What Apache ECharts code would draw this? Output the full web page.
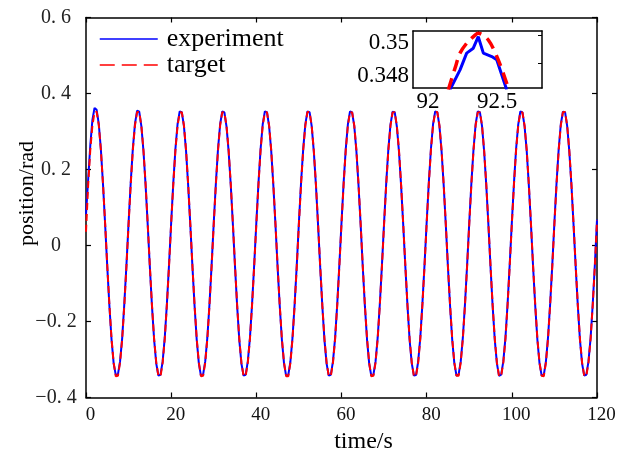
<!DOCTYPE html>
<html><head><meta charset="utf-8">
<script src="https://cdn.jsdelivr.net/npm/echarts@6/dist/echarts.min.js"></script>
<style>html,body{margin:0;padding:0;background:#fff}#c{width:635px;height:455px}</style>
</head><body><div id="c"></div>
<script>
// sampling interval of the recorded signals (s)
const sampleStep = 0.5;

// target position (rad), one row per 10 s period
const target = [
 0.036,0.158,0.250,0.315,0.351,0.352,0.317,0.251,0.161,0.057,-0.054,-0.157,-0.246,-0.309,-0.344,-0.343,-0.308,-0.246,-0.157,-0.055,
 0.056,0.160,0.251,0.316,0.351,0.351,0.316,0.250,0.161,0.056,-0.055,-0.158,-0.246,-0.308,-0.343,-0.344,-0.309,-0.245,-0.156,-0.054,
 0.057,0.161,0.251,0.315,0.350,0.351,0.316,0.251,0.160,0.056,-0.054,-0.157,-0.245,-0.308,-0.344,-0.343,-0.308,-0.245,-0.157,-0.055,
 0.056,0.161,0.250,0.316,0.351,0.350,0.315,0.250,0.161,0.057,-0.054,-0.158,-0.246,-0.309,-0.343,-0.343,-0.308,-0.246,-0.157,-0.054,
 0.056,0.160,0.251,0.316,0.350,0.351,0.316,0.251,0.160,0.056,-0.055,-0.157,-0.245,-0.308,-0.344,-0.344,-0.309,-0.245,-0.156,-0.055,
 0.057,0.161,0.250,0.315,0.351,0.351,0.316,0.250,0.161,0.056,-0.054,-0.157,-0.246,-0.308,-0.343,-0.343,-0.308,-0.246,-0.157,-0.054,
 0.056,0.161,0.251,0.316,0.351,0.350,0.316,0.251,0.161,0.057,-0.055,-0.158,-0.245,-0.309,-0.344,-0.343,-0.308,-0.245,-0.157,-0.055,
 0.056,0.160,0.250,0.315,0.350,0.351,0.315,0.250,0.160,0.056,-0.054,-0.157,-0.246,-0.308,-0.343,-0.344,-0.309,-0.246,-0.156,-0.054,
 0.057,0.161,0.251,0.316,0.351,0.351,0.316,0.251,0.161,0.056,-0.055,-0.157,-0.245,-0.308,-0.343,-0.343,-0.308,-0.245,-0.157,-0.055,
 0.056,0.161,0.250,0.316,0.350,0.351,0.316,0.250,0.161,0.057,-0.054,-0.158,-0.246,-0.309,-0.344,-0.343,-0.308,-0.246,-0.157,-0.054,
 0.056,0.160,0.251,0.315,0.351,0.350,0.315,0.251,0.160,0.056,-0.055,-0.157,-0.245,-0.308,-0.343,-0.344,-0.309,-0.245,-0.156,-0.055,
 0.057,0.161,0.250,0.316,0.351,0.351,0.316,0.250,0.161,0.056,-0.054,-0.157,-0.246,-0.308,-0.343,-0.343,-0.308,-0.246,-0.157,-0.054,
 0.066
];

// measured (experiment) position (rad)
const experiment = [
 0.082,0.172,0.262,0.330,0.362,0.357,0.320,0.252,0.160,0.054,-0.057,-0.160,-0.248,-0.311,-0.341,-0.339,-0.305,-0.243,-0.153,-0.051,
 0.060,0.165,0.255,0.320,0.355,0.352,0.314,0.248,0.158,0.053,-0.058,-0.161,-0.248,-0.311,-0.342,-0.340,-0.305,-0.242,-0.153,-0.050,
 0.060,0.165,0.254,0.319,0.353,0.351,0.314,0.248,0.157,0.053,-0.057,-0.160,-0.248,-0.310,-0.343,-0.340,-0.305,-0.242,-0.154,-0.051,
 0.060,0.164,0.254,0.319,0.353,0.350,0.313,0.247,0.158,0.054,-0.057,-0.161,-0.249,-0.311,-0.342,-0.340,-0.305,-0.243,-0.154,-0.050,
 0.060,0.164,0.254,0.319,0.353,0.351,0.314,0.248,0.157,0.053,-0.058,-0.160,-0.248,-0.310,-0.343,-0.341,-0.306,-0.242,-0.153,-0.051,
 0.061,0.165,0.253,0.318,0.353,0.351,0.314,0.247,0.158,0.053,-0.057,-0.160,-0.249,-0.311,-0.342,-0.340,-0.305,-0.243,-0.154,-0.050,
 0.060,0.165,0.254,0.319,0.353,0.350,0.314,0.248,0.158,0.054,-0.058,-0.161,-0.248,-0.311,-0.343,-0.340,-0.305,-0.242,-0.154,-0.051,
 0.060,0.164,0.253,0.318,0.352,0.351,0.313,0.247,0.157,0.053,-0.057,-0.160,-0.249,-0.310,-0.342,-0.341,-0.306,-0.243,-0.153,-0.050,
 0.061,0.165,0.254,0.319,0.353,0.351,0.314,0.248,0.158,0.053,-0.058,-0.160,-0.248,-0.310,-0.342,-0.340,-0.305,-0.242,-0.154,-0.051,
 0.060,0.164,0.253,0.319,0.353,0.351,0.314,0.247,0.158,0.054,-0.057,-0.161,-0.249,-0.311,-0.343,-0.340,-0.305,-0.243,-0.154,-0.050,
 0.060,0.164,0.254,0.318,0.353,0.350,0.313,0.248,0.157,0.053,-0.058,-0.160,-0.248,-0.310,-0.342,-0.341,-0.306,-0.242,-0.153,-0.051,
 0.061,0.165,0.253,0.319,0.352,0.351,0.314,0.247,0.158,0.053,-0.057,-0.160,-0.249,-0.311,-0.342,-0.340,-0.305,-0.243,-0.154,-0.050,
 0.068
];

// inset (zoom around the peak near t = 92.3 s)
const insetTargetTime = [92.147,92.196,92.232,92.280,92.341,92.364,92.437,92.509,92.582];
const insetTargetPos  = [0.34715,0.34847,0.34938,0.34998,0.35048,0.35059,0.35018,0.34897,0.34725];
const insetExpTime = [92.159,92.232,92.280,92.328,92.364,92.401,92.462,92.498,92.534,92.570];
const insetExpPos  = [0.34715,0.34836,0.34938,0.34968,0.35038,0.34938,0.34917,0.34897,0.34806,0.34715];

const xTickValues = [0,20,40,60,80,100,120];
const yTickValues = [-0.4,-0.2,0,0.2,0.4,0.6];
const insetXLabels = [92, 92.5];
const insetYLabels = [0.348, 0.35];

const timeAxis = target.map((_, i) => i * sampleStep);
const pairs = (ts, vs) => vs.map((v, i) => [ts[i], v]);

const serif = '"Liberation Serif", "Times New Roman", serif';
const fmtY = v => {
  if (Math.abs(v) < 1e-9) return '0';
  return (v < 0 ? '\u2212' : '') + '0. ' + Math.round(Math.abs(v) * 10);
};

const chart = echarts.init(document.getElementById('c'), null, {renderer: 'canvas'});
const axisLine = {show: true, onZero: false, lineStyle: {color: '#000', width: 1.5}};
const tick = {inside: true, length: 5, lineStyle: {color: '#000', width: 1.2}};
chart.setOption({
  animation: false,
  backgroundColor: '#fff',
  grid: [
    {left: 86, top: 17.5, width: 511, height: 380, outerBoundsMode: 'none', containLabel: false},
    {left: 413, top: 31, width: 129, height: 57, outerBoundsMode: 'none', containLabel: false,
     backgroundColor: '#fff', show: true, borderWidth: 0}
  ],
  legend: {
    left: 94, top: 21, orient: 'vertical', itemWidth: 58, itemHeight: 14, itemGap: 0,
    itemStyle: {opacity: 0},
    textStyle: {fontFamily: serif, fontSize: 26, color: '#000', padding: [7, 0, 0, 4]},
    data: [
      {name: 'experiment', lineStyle: {type: 'solid', width: 1.5}},
      {name: 'target', lineStyle: {type: [15, 7], width: 1.5}}
    ]
  },
  xAxis: [
    {gridIndex: 0, type: 'value', min: 0, max: 120, interval: 20, position: 'bottom',
     axisLine, axisTick: tick, splitLine: {show: false},
     axisLabel: {fontFamily: serif, fontSize: 19, color: '#111', margin: 8, padding: [0, 0, 0, 9]},
     name: 'time/s', nameLocation: 'middle', nameGap: 32, nameMoveOverlap: false,
     nameTextStyle: {fontFamily: serif, fontSize: 24, color: '#000', padding: [0, 0, 0, 44]}},
    {gridIndex: 0, type: 'value', min: 0, max: 120, interval: 20, position: 'top',
     axisLine, axisTick: tick, axisLabel: {show: false}, splitLine: {show: false}},
    {gridIndex: 1, type: 'value', min: 91.891, max: 92.826, position: 'bottom',
     axisLine, axisTick: {show: false}, splitLine: {show: false},
     axisLabel: {customValues: insetXLabels, fontFamily: serif, fontSize: 23, color: '#000', margin: 2}},
    {gridIndex: 1, type: 'value', min: 91.891, max: 92.826, position: 'top',
     axisLine, axisTick: {inside: true, length: 4, customValues: [92.362], lineStyle: {color: '#000'}}, axisLabel: {show: false}, splitLine: {show: false}}
  ],
  yAxis: [
    {gridIndex: 0, type: 'value', min: -0.4, max: 0.6, interval: 0.2, position: 'left',
     axisLine, axisTick: tick, splitLine: {show: false},
     axisLabel: {fontFamily: serif, fontSize: 20, color: '#222', margin: 30, align: 'center', formatter: fmtY},
     name: 'position/rad', nameLocation: 'middle', nameGap: 48, nameMoveOverlap: false,
     nameTextStyle: {fontFamily: serif, fontSize: 22, color: '#000', padding: [0, 0, 0, 28]}},
    {gridIndex: 0, type: 'value', min: -0.4, max: 0.6, interval: 0.2, position: 'right',
     axisLine, axisTick: tick, axisLabel: {show: false}, splitLine: {show: false}},
    {gridIndex: 1, type: 'value', min: 0.347255, max: 0.350727, position: 'left',
     axisLine, axisTick: {show: false}, splitLine: {show: false},
     axisLabel: {customValues: insetYLabels, fontFamily: serif, fontSize: 23, color: '#000', margin: 4,
                 formatter: v => String(+v.toFixed(3))}},
    {gridIndex: 1, type: 'value', min: 0.347255, max: 0.350727, position: 'right',
     axisLine, axisTick: {inside: true, length: 4, customValues: [0.34877, 0.35048], lineStyle: {color: '#000'}}, axisLabel: {show: false}, splitLine: {show: false}}
  ],
  series: [
    {name: 'experiment', type: 'line', xAxisIndex: 0, yAxisIndex: 0, showSymbol: false, symbol: 'none',
     data: pairs(timeAxis, experiment), lineStyle: {color: '#0000ff', width: 2}, itemStyle: {color: '#0000ff'}},
    {name: 'target', type: 'line', xAxisIndex: 0, yAxisIndex: 0, showSymbol: false, symbol: 'none',
     data: pairs(timeAxis, target), lineStyle: {color: '#ff0000', width: 2, type: [7, 4]}, itemStyle: {color: '#ff0000'}},
    {name: 'experiment', type: 'line', xAxisIndex: 2, yAxisIndex: 2, showSymbol: false, symbol: 'none', clip: true,
     data: pairs(insetExpTime, insetExpPos), lineStyle: {color: '#0000ff', width: 3}, itemStyle: {color: '#0000ff'}},
    {name: 'target', type: 'line', xAxisIndex: 2, yAxisIndex: 2, showSymbol: false, symbol: 'none', clip: true, smooth: 0.3,
     data: pairs(insetTargetTime, insetTargetPos), lineStyle: {color: '#ff0000', width: 3.5, type: [12, 7]}, itemStyle: {color: '#ff0000'}}
  ]
});
</script></body></html>
